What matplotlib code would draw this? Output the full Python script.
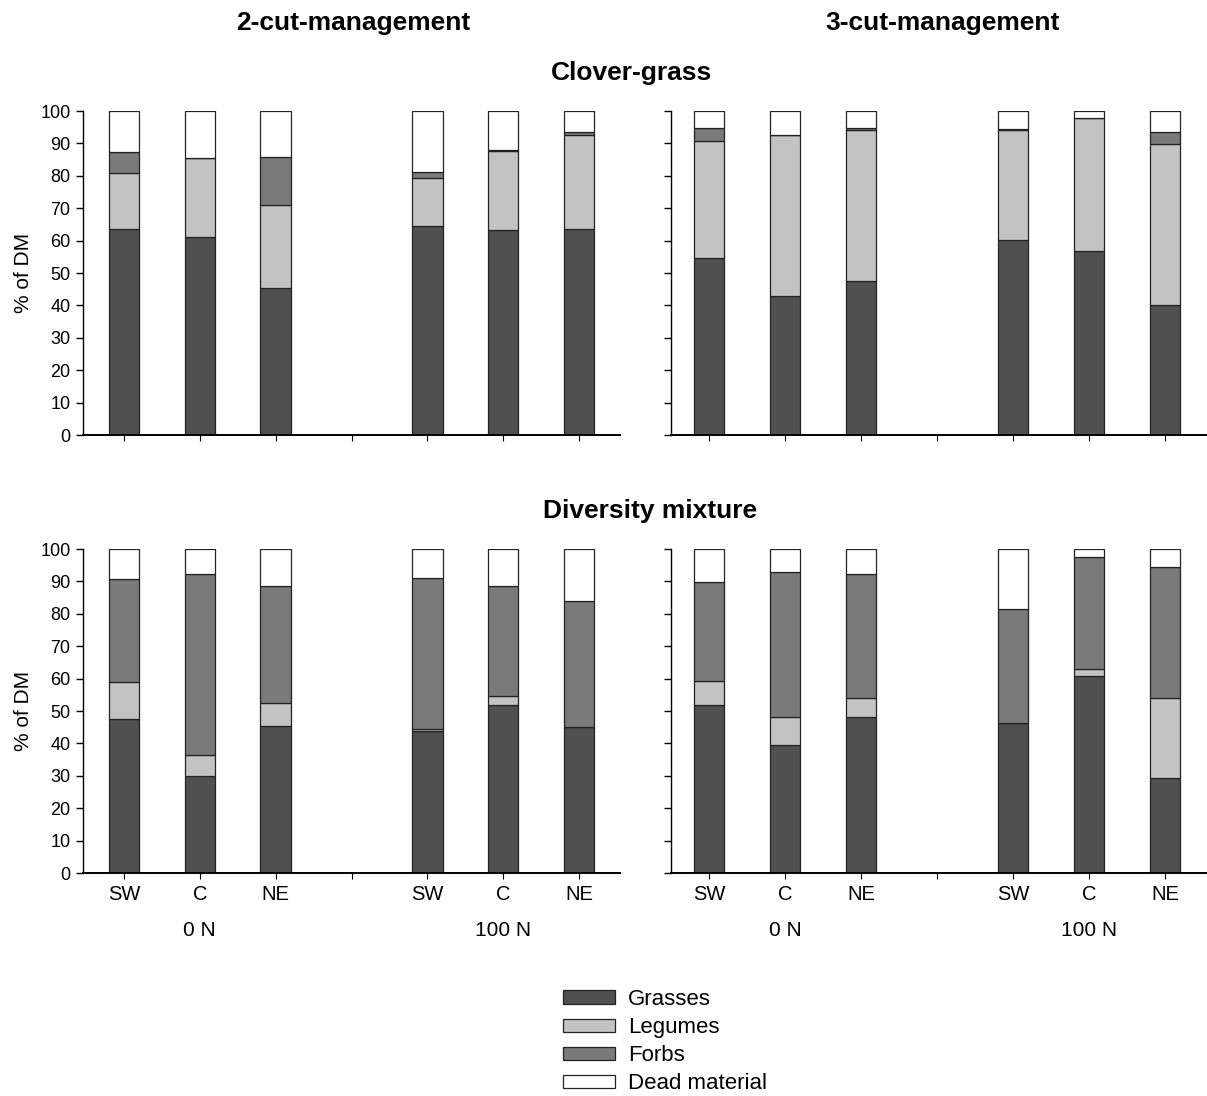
import matplotlib
matplotlib.use("Agg")
import matplotlib.pyplot as plt
import numpy as np

plt.rcParams['font.family'] = ['Liberation Sans', 'DejaVu Sans']

categories = ["SW", "C", "NE", "SW", "C", "NE"]
n_levels = ["0 N", "100 N"]
series_names = ["Grasses", "Legumes", "Forbs", "Dead material"]

# Clover-grass, 2-cut
cg2_grasses = [63.6, 61.2, 45.3, 64.5, 63.2, 63.6]
cg2_legumes = [17.4, 24.3, 25.7, 14.7, 24.6, 29.0]
cg2_forbs = [6.5, 0.0, 14.8, 2.1, 0.2, 0.8]
# Clover-grass, 3-cut
cg3_grasses = [54.7, 42.9, 47.6, 60.2, 56.7, 40.1]
cg3_legumes = [36.0, 49.8, 46.5, 34.0, 41.2, 49.8]
cg3_forbs = [4.0, 0.0, 0.6, 0.1, 0.0, 3.6]
# Diversity mixture, 2-cut
dm2_grasses = [47.4, 30.0, 45.5, 43.7, 51.8, 45.2]
dm2_legumes = [11.5, 6.5, 7.1, 0.7, 2.7, 0.0]
dm2_forbs = [31.7, 55.7, 36.0, 46.5, 34.0, 38.6]
# Diversity mixture, 3-cut
dm3_grasses = [51.8, 39.4, 48.2, 46.2, 60.7, 29.2]
dm3_legumes = [7.6, 8.8, 5.8, 0.0, 2.4, 24.8]
dm3_forbs = [30.4, 44.7, 38.3, 35.2, 34.5, 40.3]

panels = [
    (cg2_grasses, cg2_legumes, cg2_forbs),
    (cg3_grasses, cg3_legumes, cg3_forbs),
    (dm2_grasses, dm2_legumes, dm2_forbs),
    (dm3_grasses, dm3_legumes, dm3_forbs),
]

colors = ["#505050", "#c3c3c3", "#7a7a7a", "#ffffff"]
edge = "#222222"

W, H = 1207, 1096
fig = plt.figure(figsize=(W / 100, H / 100), dpi=100)

def fx(px):
    return px / W

def fy(py):
    return 1 - py / H

rects = [
    (83, 111, 620, 435),
    (671, 111, 1207, 435),
    (83, 549, 620, 873),
    (671, 549, 1207, 873),
]

x = np.array([0, 1, 2, 4, 5, 6])
axes = []
for i, ((l, t, r, b), (g, le, fo)) in enumerate(zip(rects, panels)):
    ax = fig.add_axes([fx(l), fy(b), fx(r - l), fy(t) - fy(b)])
    axes.append(ax)
    g = np.array(g); le = np.array(le); fo = np.array(fo)
    dead = 100 - g - le - fo
    bottom = np.zeros(6)
    for vals, c, name in zip([g, le, fo, dead], colors, series_names):
        ax.bar(x, vals, bottom=bottom, width=0.4, color=c, edgecolor=edge,
               linewidth=0.9, label=name)
        bottom = bottom + vals
    ax.set_ylim(0, 100)
    if i % 2 == 0:
        ax.set_xlim(-0.54, 6.54)
    else:
        ax.set_xlim(-0.5, 6.55)
    ax.set_yticks(np.arange(0, 101, 10))
    ax.set_xticks([0, 1, 2, 3, 4, 5, 6])
    ax.spines['top'].set_visible(False)
    ax.spines['right'].set_visible(False)
    ax.spines['left'].set_linewidth(1.0)
    ax.spines['bottom'].set_linewidth(1.4)
    ax.tick_params(axis='y', direction='out', length=5, width=1, labelsize=13, pad=4)
    ax.tick_params(axis='x', direction='out', length=4, width=0.8, labelsize=14.5, pad=5)
    if i % 2 == 0:
        ax.set_ylabel("% of DM", fontsize=15, labelpad=5)
    else:
        ax.set_yticklabels([])
    if i >= 2:
        ax.set_xticklabels(["SW", "C", "NE", "", "SW", "C", "NE"])
        ax.text(1, -0.176, n_levels[0], transform=ax.get_xaxis_transform(),
                ha='center', va='center', fontsize=15)
        ax.text(5, -0.176, n_levels[1], transform=ax.get_xaxis_transform(),
                ha='center', va='center', fontsize=15)
    else:
        ax.set_xticklabels([])

title_kw = dict(ha='center', va='center', fontsize=19, fontweight='bold')
fig.text(fx(353), fy(23), "2-cut-management", **title_kw)
fig.text(fx(943), fy(23), "3-cut-management", **title_kw)
fig.text(fx(631), fy(73), "Clover-grass", **title_kw)
fig.text(fx(650), fy(511), "Diversity mixture", **title_kw)

handles, labels = axes[0].get_legend_handles_labels()
fig.legend(handles, labels, loc='upper left', bbox_to_anchor=(fx(563), fy(989)),
           frameon=False, fontsize=16, handlelength=2.34, handleheight=0.55,
           labelspacing=0.32, handletextpad=0.58, borderaxespad=0, borderpad=0)

fig.savefig("out.png", dpi=100)
